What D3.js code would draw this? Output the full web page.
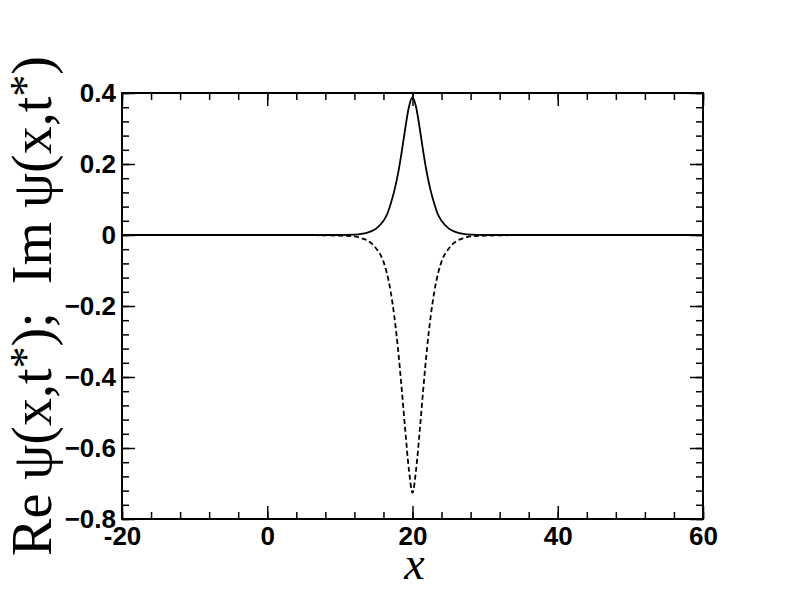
<!DOCTYPE html>
<html>
<head>
<meta charset="utf-8">
<script src="https://cdn.jsdelivr.net/npm/d3@7"></script>
<style>
  body { margin: 0; background: #fff; }
  svg { display: block; }
</style>
</head>
<body>
<script>
const w = 792;
const h = 612;

// values
const xs = [-20, 0, 4, 8, 10, 12, 13, 14, 15, 16, 16.5, 17, 17.5, 18, 18.5, 19, 19.5, 20,
  20.5, 21, 21.5, 22, 22.5, 23, 23.5, 24, 25, 26, 27, 28, 30, 32, 36, 40, 60];
const reVals = [0, 0, 0, 0, 0, 0.001, 0.003, 0.008, 0.018, 0.04, 0.058, 0.088, 0.125, 0.172, 0.232, 0.30, 0.36, 0.388,
  0.36, 0.30, 0.232, 0.172, 0.125, 0.088, 0.058, 0.04, 0.018, 0.008, 0.003, 0.001, 0, 0, 0, 0, 0];
const imVals = [0, 0, 0, -0.001, -0.002, -0.004, -0.009, -0.018, -0.038, -0.075, -0.11, -0.16, -0.23, -0.32, -0.43, -0.55, -0.66, -0.726,
  -0.66, -0.55, -0.43, -0.32, -0.23, -0.16, -0.11, -0.075, -0.038, -0.018, -0.009, -0.004, -0.002, -0.001, 0, 0, 0];

const xMajor = [-20, 0, 20, 40, 60];
const yMajor = [0.4, 0.2, 0, -0.2, -0.4, -0.6, -0.8];
const xMinor = d3.range(-20, 60.001, 4);
const yMinor = d3.range(-0.8, 0.4001, 0.04);

const pLeft = 122, pRight = 703, pTop = 93, pBottom = 519;

const x = d3.scaleLinear().domain([-20, 60]).range([pLeft, pRight]);
const y = d3.scaleLinear().domain([-0.8, 0.4]).range([pBottom, pTop]);

const svg = d3.select('body').append('svg')
  .attr('width', w)
  .attr('height', h);

const fmt = d => d === 0 ? '0' : d3.format('.1f')(d);
const fmtX = d => String(d);

function styleAxis(g) {
  g.select('.domain').remove();
  g.selectAll('line').attr('stroke', '#000').attr('stroke-width', 1.5);
  g.selectAll('text')
    .attr('fill', '#000')
    .style('font-family', '"Liberation Sans", Arial, sans-serif')
    .style('font-weight', 'bold')
    .style('font-size', '26px');
}

// minor ticks
svg.append('g').attr('transform', `translate(0,${pBottom})`)
  .call(d3.axisBottom(x).tickValues(xMinor).tickSize(-7).tickFormat(''))
  .call(styleAxis);
svg.append('g').attr('transform', `translate(0,${pTop})`)
  .call(d3.axisTop(x).tickValues(xMinor).tickSize(-7).tickFormat(''))
  .call(styleAxis);
svg.append('g').attr('transform', `translate(${pLeft},0)`)
  .call(d3.axisLeft(y).tickValues(yMinor).tickSize(-7).tickFormat(''))
  .call(styleAxis);
svg.append('g').attr('transform', `translate(${pRight},0)`)
  .call(d3.axisRight(y).tickValues(yMinor).tickSize(-7).tickFormat(''))
  .call(styleAxis);

// major ticks
svg.append('g').attr('transform', `translate(0,${pBottom})`)
  .call(d3.axisBottom(x).tickValues(xMajor).tickSize(-13).tickPadding(8).tickFormat(fmtX))
  .call(styleAxis);
svg.append('g').attr('transform', `translate(0,${pTop})`)
  .call(d3.axisTop(x).tickValues(xMajor).tickSize(-13).tickFormat(''))
  .call(styleAxis);
svg.append('g').attr('transform', `translate(${pLeft},0)`)
  .call(d3.axisLeft(y).tickValues(yMajor).tickSize(-13).tickPadding(6).tickFormat(fmt))
  .call(styleAxis);
svg.append('g').attr('transform', `translate(${pRight},0)`)
  .call(d3.axisRight(y).tickValues(yMajor).tickSize(-13).tickFormat(''))
  .call(styleAxis);

// frame
svg.append('rect')
  .attr('x', pLeft).attr('y', pTop)
  .attr('width', pRight - pLeft).attr('height', pBottom - pTop)
  .attr('fill', 'none').attr('stroke', '#000').attr('stroke-width', 2);

const pts = xs.map((d, i) => ({ x: d, re: reVals[i], im: imVals[i] }));

const lineRe = d3.line().x(d => x(d.x)).y(d => y(d.re)).curve(d3.curveMonotoneX);
const lineIm = d3.line().x(d => x(d.x)).y(d => y(d.im)).curve(d3.curveMonotoneX);

svg.append('path').datum(pts)
  .attr('d', lineRe)
  .attr('fill', 'none').attr('stroke', '#000').attr('stroke-width', 1.8);

svg.append('path').datum(pts)
  .attr('d', lineIm)
  .attr('fill', 'none').attr('stroke', '#000').attr('stroke-width', 1.8)
  .attr('stroke-dasharray', '5,3');

// axis titles
svg.append('text')
  .attr('x', (pLeft + pRight) / 2 + 2)
  .attr('y', 579)
  .attr('text-anchor', 'middle')
  .style('font-family', '"Liberation Serif", "Times New Roman", serif')
  .style('font-style', 'italic')
  .style('font-size', '46px')
  .text('x');

const yTitle = svg.append('text')
  .attr('transform', 'translate(51,306) rotate(-90)')
  .attr('text-anchor', 'middle')
  .style('font-family', '"Liberation Serif", "Times New Roman", serif')
  .style('font-size', '56px');
yTitle.append('tspan').text('Re \u03c8(x,t');
yTitle.append('tspan').attr('baseline-shift', '25%').style('font-size', '44px').text('*');
yTitle.append('tspan').attr('baseline-shift', '0').text(');\u00a0 Im \u03c8(x,t');
yTitle.append('tspan').attr('baseline-shift', '25%').style('font-size', '44px').text('*');
yTitle.append('tspan').attr('baseline-shift', '0').text(')');
</script>
</body>
</html>
